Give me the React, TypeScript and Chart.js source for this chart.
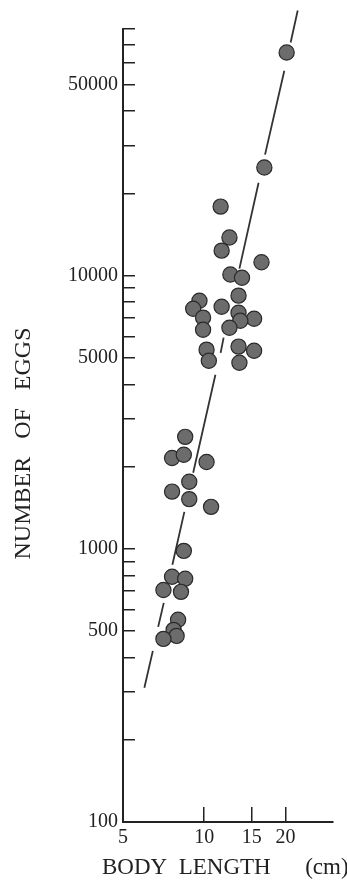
import React, { useEffect, useRef } from 'react';
import { Chart, registerables } from 'chart.js';

Chart.register(...registerables);

// Body length (cm) of each fish
const bodyLength = [
  20.2, 16.7, 11.5, 12.4, 11.6, 16.3, 12.5, 13.8, 13.4, 9.6,
  9.1, 11.6, 9.9, 13.4, 15.3, 13.6, 9.9, 12.4, 10.2, 13.4,
  15.3, 10.4, 13.5, 8.5, 7.6, 8.4, 10.2, 8.8, 7.6, 8.8,
  10.6, 8.4, 7.6, 8.5, 7.06, 8.2, 8.0, 7.7, 7.9, 7.06,
];
// Number of eggs of each fish
const eggCount = [
  65600, 24900, 17900, 13800, 12350, 11200, 10100, 9830, 8450, 8100,
  7570, 7700, 7020, 7320, 6960, 6840, 6340, 6450, 5360, 5500,
  5310, 4880, 4800, 2570, 2150, 2210, 2080, 1760, 1620, 1520,
  1425, 983, 790, 777, 707, 696, 550, 505, 480, 468,
];

// Fitted line, drawn as broken pieces (null = gap)
const fitLineX = [22.2, 20.9, null, 19.8, 16.8, null, 15.9, 13.5, null, 11.8, 11.5, null, 11.0, 9.1, null, 8.44, 7.62, null, 7.08, 6.75, null, 6.45, 6.0];
const fitLineY = [93500, 71400, null, 56300, 27750, null, 21900, 10610, null, 5930, 5220, null, 4340, 1900, null, 1366, 874, null, 634, 518, null, 423, 310];

const xTickValues = [5, 10, 15, 20];
const yTickValues = [
  100, 200, 300, 400, 500, 600, 700, 800, 900,
  1000, 2000, 3000, 4000, 5000, 6000, 7000, 8000, 9000,
  10000, 20000, 30000, 40000, 50000, 60000, 70000, 80000,
];
const yLabelValues = [100, 500, 1000, 5000, 10000, 50000];

const xTitle = 'BODY  LENGTH      (cm)';
const yTitle = 'NUMBER   OF   EGGS      ';

const SERIF = '"Liberation Serif", "DejaVu Serif", serif';
const INK = '#222';

// Draws the x-axis title without Chart.js's maxWidth squeeze
const xTitlePlugin = {
  id: 'xTitleFree',
  afterDraw(chart: any) {
    const xs = chart.scales.x;
    const ctx = chart.ctx;
    ctx.save();
    ctx.fillStyle = INK;
    ctx.font = `23px ${SERIF}`;
    ctx.textAlign = 'left';
    ctx.textBaseline = 'middle';
    ctx.fillText(xTitle, xs.left - 21, xs.bottom - 12);
    ctx.restore();
  },
};

export default function App() {
  const canvasRef = useRef<HTMLCanvasElement | null>(null);

  useEffect(() => {
    const canvas = canvasRef.current;
    if (!canvas) return;
    const chart = new Chart(canvas, {
      type: 'scatter',
      data: {
        datasets: [
          {
            label: 'fish',
            data: bodyLength.map((x, i) => ({ x, y: eggCount[i] })),
            pointRadius: 7.6,
            pointHoverRadius: 7.6,
            backgroundColor: '#6c6c6c',
            borderColor: '#2a2a2a',
            borderWidth: 1.2,
            showLine: false,
          },
          {
            label: 'fit',
            data: fitLineX.map((x, i) => ({ x: x as any, y: fitLineY[i] as any })),
            showLine: true,
            spanGaps: false,
            pointRadius: 0,
            borderColor: '#333',
            borderWidth: 1.8,
            clip: false as any,
          },
        ],
      },
      options: {
        responsive: false,
        animation: false,
        layout: { padding: { top: 28, right: 14, left: 0, bottom: 0 } },
        plugins: {
          legend: { display: false },
          tooltip: { enabled: false },
        },
        scales: {
          x: {
            type: 'logarithmic',
            position: 'bottom',
            min: 5,
            max: 30,
            afterBuildTicks: (s: any) => {
              s.ticks = xTickValues.map((v) => ({ value: v }));
            },
            afterFit: (s: any) => {
              s.height = 58;
            },
            ticks: {
              autoSkip: false,
              maxRotation: 0,
              padding: 19,
              color: INK,
              font: { family: SERIF, size: 20 },
              callback: (v: any) => String(v),
            },
            grid: {
              drawOnChartArea: false,
              tickLength: -15,
              color: INK,
              lineWidth: 1.5,
            },
            border: { display: true, color: INK, width: 2 },
            title: { display: false },
          },
          y: {
            type: 'logarithmic',
            position: 'left',
            min: 100,
            max: 80000,
            afterBuildTicks: (s: any) => {
              s.ticks = yTickValues.map((v) => ({ value: v }));
            },
            afterFit: (s: any) => {
              s.width = 123;
            },
            ticks: {
              autoSkip: false,
              padding: 17,
              color: INK,
              font: { family: SERIF, size: 20 },
              callback: (v: any) => (yLabelValues.includes(Number(v)) ? String(v) : ''),
            },
            grid: {
              drawOnChartArea: false,
              tickLength: -12,
              color: INK,
              lineWidth: 1.5,
            },
            border: { display: true, color: INK, width: 2 },
            title: {
              display: true,
              text: yTitle,
              color: INK,
              font: { family: SERIF, size: 24 },
              padding: { top: 9, bottom: 0 },
            },
          },
        },
      },
      plugins: [xTitlePlugin],
    });
    return () => chart.destroy();
  }, []);

  return (
    <div style={{ position: 'absolute', left: 0, top: 0, width: 347, height: 880, background: '#fff' }}>
      <canvas ref={canvasRef} width={347} height={880} style={{ display: 'block' }} />
    </div>
  );
}
